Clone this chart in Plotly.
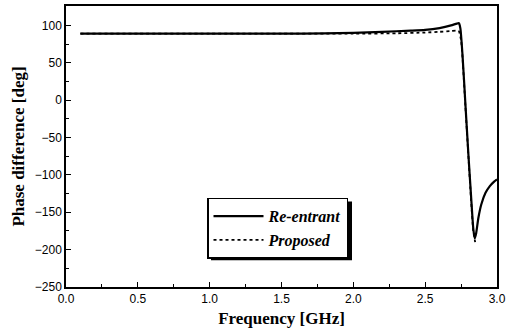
import plotly.graph_objects as go

freq_re = [0.1, 0.5, 1.0, 1.5, 1.8, 2.0, 2.2, 2.4, 2.5, 2.6, 2.68, 2.72, 2.735, 2.745, 2.76, 2.78, 2.80, 2.82, 2.835, 2.845, 2.855, 2.87, 2.89, 2.92, 2.95, 2.98, 3.0]
phase_re = [89, 89, 89, 89, 89.3, 90, 91.5, 93, 94, 96.5, 100, 102.5, 103, 96, 60, -5, -70, -130, -172, -185, -178, -158, -140, -124, -115, -109, -106]

freq_pr = [0.1, 0.5, 1.0, 1.5, 2.0, 2.3, 2.5, 2.6, 2.68, 2.72, 2.735, 2.75, 2.76, 2.78, 2.80, 2.82, 2.835, 2.848]
phase_pr = [89, 89, 89, 89, 89, 89.5, 90.5, 91.5, 92.5, 93, 92, 80, 57, -8, -72, -135, -175, -190]

fig = go.Figure()
fig.add_trace(go.Scatter(x=freq_re, y=phase_re, mode="lines", name="<b><i>Re-entrant</i></b>",
                         line=dict(color="black", width=2.2, shape="spline", smoothing=0.6)))
fig.add_trace(go.Scatter(x=freq_pr, y=phase_pr, mode="lines", name="<b><i>Proposed</i></b>",
                         line=dict(color="black", width=1.8, dash="dot", shape="spline", smoothing=0.6)))

x0, x1 = 66, 497
y0, y1 = 4, 287
W, H = 515, 333
pw, ph = x1 - x0, y1 - y0

def px(x):
    return (x - x0) / pw

def py(y):
    return (y1 - y) / ph

# legend shadow
fig.add_shape(type="rect", xref="paper", yref="paper",
              x0=px(211), x1=px(352), y0=py(260), y1=py(201),
              fillcolor="black", line=dict(width=0), layer="above")

fig.update_layout(
    width=W, height=H,
    margin=dict(l=x0, r=W - x1, t=y0, b=H - y1),
    paper_bgcolor="white", plot_bgcolor="white",
    showlegend=True,
    legend=dict(x=px(207), y=py(197), xanchor="left", yanchor="top",
                bgcolor="white", bordercolor="black", borderwidth=1.5,
                font=dict(family="Liberation Serif", size=16, color="black"),
                itemwidth=50, tracegroupgap=0),
    xaxis=dict(range=[0, 3], tickvals=[0, 0.5, 1.0, 1.5, 2.0, 2.5, 3.0],
               ticktext=["0.0", "0.5", "1.0", "1.5", "2.0", "2.5", "3.0"],
               ticks="inside", ticklen=5, tickwidth=1.2, tickcolor="black",
               minor=dict(ticks="inside", ticklen=3, dtick=0.25, tickcolor="black"),
               showline=True, linecolor="black", linewidth=1.5, mirror=True,
               showgrid=False, zeroline=False,
               tickfont=dict(family="Liberation Sans", size=12, color="black"),
               title=dict(text="<b>Frequency [GHz]</b>", standoff=7,
                          font=dict(family="Liberation Serif", size=17, color="black"))),
    yaxis=dict(range=[-250, 126], tickvals=[-250, -200, -150, -100, -50, 0, 50, 100],
               ticks="inside", ticklen=5, tickwidth=1.2, tickcolor="black",
               minor=dict(ticks="inside", ticklen=3, dtick=25, tickcolor="black"),
               showline=True, linecolor="black", linewidth=1.5, mirror=True,
               showgrid=False, zeroline=False,
               tickfont=dict(family="Liberation Sans", size=12, color="black"),
               title=dict(text="<b>Phase difference [deg]</b>", standoff=6,
                          font=dict(family="Liberation Serif", size=17, color="black"))),
)

fig.write_html("out.html")
